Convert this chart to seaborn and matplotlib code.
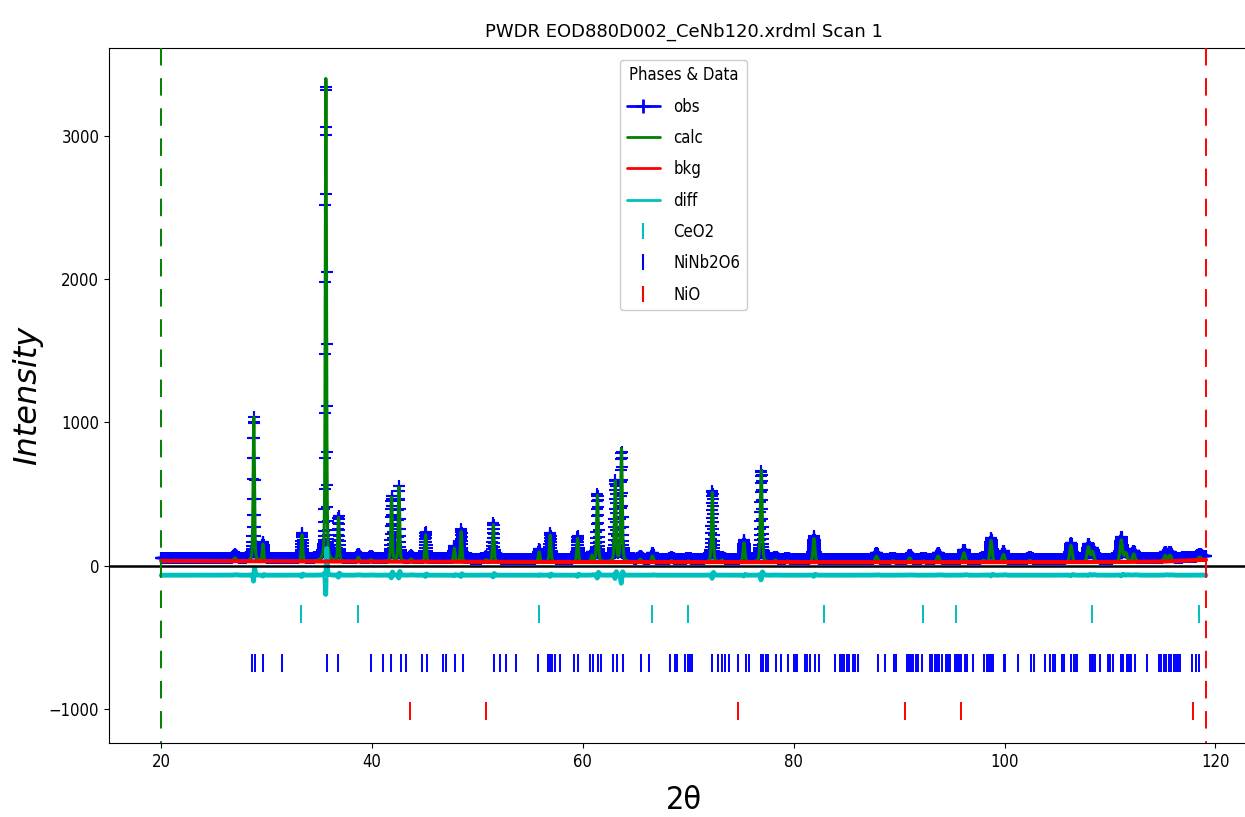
import numpy as np
import matplotlib
matplotlib.use("Agg")
import matplotlib.pyplot as plt
from matplotlib.lines import Line2D
from matplotlib.font_manager import FontProperties
import seaborn as sns

# ---- scan range -------------------------------------------------------------
tth_min = 20.0
tth_max = 119.1
tth_step = 0.0167

# refined background, read at a few angles
bkg_angle = [20.0, 30.0, 45.0, 60.0, 80.0, 100.0, 110.0, 115.0, 119.1]
bkg_level = [34, 31, 28, 26, 25, 25, 26, 29, 42]
obs_excess = 22          # diffuse intensity not covered by the background
diff_offset = -88        # vertical offset of the difference curve

# ---- reflections: position, observed / calculated net height, FWHM --------
peak_pos = [27.0, 28.78, 29.65, 33.35, 35.62, 36.82, 38.7, 39.9, 41.85, 42.55,
            43.7, 45.08, 47.8, 48.45, 50.8, 51.5, 55.85, 56.9, 59.5, 60.86,
            61.38, 63.07, 63.66, 65.45, 66.6, 68.4, 70.0, 72.28, 73.2, 75.28,
            76.92, 78.25, 79.4, 81.92, 87.85, 89.4, 91.0, 92.3, 93.7, 96.15,
            98.0, 98.72, 99.9, 102.4, 106.3, 107.95, 108.35, 111.07, 111.5,
            112.26, 115.24, 115.7, 118.5]
obs_net = [25, 985, 113, 178, 3320, 295, 30, 15, 438, 508,
           20, 182, 89, 206, 15, 252, 68, 182, 159, 45,
           450, 543, 741, 20, 43, 10, 8, 473, 12, 130,
           613, 15, 8, 159, 43, 10, 31, 8, 43, 66,
           12, 148, 55, 12, 113, 101, 70, 148, 60,
           55, 43, 43, 20]
calc_net = [22, 1010, 118, 185, 3390, 305, 28, 14, 450, 520,
            18, 188, 92, 212, 14, 260, 70, 188, 165, 44,
            465, 560, 790, 19, 42, 10, 8, 490, 12, 134,
            640, 14, 8, 165, 42, 10, 30, 8, 42, 65,
            12, 152, 54, 12, 116, 103, 70, 152, 60,
            54, 42, 42, 20]
peak_fwhm = [0.30, 0.14, 0.16, 0.16, 0.13, 0.15, 0.25, 0.25, 0.15, 0.15,
             0.25, 0.16, 0.18, 0.16, 0.25, 0.16, 0.18, 0.17, 0.17, 0.20,
             0.17, 0.17, 0.17, 0.25, 0.22, 0.30, 0.30, 0.18, 0.30, 0.20,
             0.19, 0.30, 0.30, 0.21, 0.30, 0.35, 0.30, 0.35, 0.30, 0.28,
             0.35, 0.24, 0.28, 0.35, 0.26, 0.28, 0.30, 0.27, 0.30,
             0.30, 0.30, 0.30, 0.40]

# ---- reflection markers of each phase ---------------------------------------
ceo2_ticks = [33.3, 38.7, 55.8, 66.6, 70.0, 82.9, 92.3, 95.4, 108.3, 118.4]
nio_ticks = [43.6, 50.8, 74.7, 90.6, 95.9, 117.9]
ninb2o6_ticks = [28.65, 28.9, 29.7, 31.5, 35.7, 36.8, 39.9, 41.0, 41.8, 42.7,
                 43.2, 44.7, 45.2, 46.7, 47.05, 47.9, 48.6, 51.6, 52.1, 52.7,
                 53.7, 55.7, 56.7, 56.9, 57.1, 57.4, 57.85, 59.15, 59.5, 60.65,
                 60.95, 61.4, 61.7, 62.9, 63.2, 63.8, 65.5, 66.3, 68.3, 68.7,
                 68.9, 69.7, 70.0, 70.15, 70.35, 72.26, 72.81, 73.22, 73.45,
                 73.83, 74.67, 75.44, 75.73, 76.91, 77.1, 77.33, 77.55, 78.29,
                 78.77, 79.41, 80.02, 80.18, 80.34, 81.08, 81.27, 81.56, 81.98,
                 82.43, 83.87, 84.39, 84.58, 84.8, 85.03, 85.25, 85.67, 85.86,
                 86.05, 87.98, 88.62, 89.49, 89.68, 90.74, 90.93, 91.12, 91.35,
                 91.57, 91.83, 92.15, 92.95, 93.14, 93.37, 93.59, 93.82, 94.07,
                 94.49, 94.68, 94.87, 95.26, 95.45, 95.64, 95.84, 96.25, 96.48,
                 96.96, 98.08, 98.31, 98.5, 98.72, 98.88, 99.91, 100.0, 101.32,
                 102.51, 102.8, 103.88, 104.33, 104.56, 104.82, 105.46, 105.68,
                 106.32, 106.55, 106.74, 106.9, 108.09, 108.25, 108.41, 108.57,
                 109.02, 109.82, 110.04, 110.27, 111.07, 111.23, 111.61, 111.81,
                 112.03, 112.35, 113.54, 114.63, 114.82, 115.14, 115.33, 115.56,
                 115.78, 116.04, 116.23, 116.43, 116.68, 117.74, 118.12, 118.41]
phase_offsets = {"CeO2": -335, "NiNb2O6": -677, "NiO": -1012}
phase_colors = {"CeO2": "c", "NiNb2O6": "b", "NiO": "r"}
phase_ticks = {"CeO2": ceo2_ticks, "NiNb2O6": ninb2o6_ticks, "NiO": nio_ticks}


def pseudo_voigt(x, pos, height, fwhm, eta=0.4):
    u = (x - pos) / fwhm
    gauss = np.exp(-4.0 * np.log(2.0) * u ** 2)
    lorentz = 1.0 / (1.0 + 4.0 * u ** 2)
    return height * (eta * lorentz + (1.0 - eta) * gauss)


tth = np.arange(tth_min, tth_max + 1e-9, tth_step)
bkg = np.interp(tth, bkg_angle, bkg_level)
calc = bkg.copy()
obs = bkg + obs_excess
for p, ho, hc, w in zip(peak_pos, obs_net, calc_net, peak_fwhm):
    calc += pseudo_voigt(tth, p, hc, w)
    obs += pseudo_voigt(tth, p + 0.004, ho, w * 1.05)
diff = obs - calc + diff_offset

# ---- figure -----------------------------------------------------------------
sns.set_style("ticks", {"axes.edgecolor": "black", "xtick.color": "black",
                        "ytick.color": "black", "text.color": "black",
                        "axes.labelcolor": "black"})
plt.rcParams["font.family"] = ["DejaVu Sans"]

narrow12 = FontProperties(family="DejaVu Sans", stretch="condensed", size=12)
narrow_label = FontProperties(family="DejaVu Sans", stretch="condensed", size=23)

fig = plt.figure(figsize=(12.45, 8.17), dpi=100)
ax = fig.add_axes([0.0876, 0.0906, 0.9229, 0.8507])

ax.plot(tth, obs, color="b", marker="+", ms=8, mew=1.5, lw=1.0, zorder=2)
sns.lineplot(x=tth, y=calc, color="g", lw=2.2, ax=ax, estimator=None,
             errorbar=None, legend=False, zorder=3)
sns.lineplot(x=tth, y=bkg, color="r", lw=3.0, ax=ax, estimator=None,
             errorbar=None, legend=False, zorder=4)
sns.lineplot(x=tth, y=diff, color="c", lw=3.5, ax=ax, estimator=None,
             errorbar=None, legend=False, zorder=3)
ax.axhline(0, color="k", lw=1.8, zorder=5)

for name, ticks in phase_ticks.items():
    ax.plot(ticks, [phase_offsets[name]] * len(ticks), ls="", marker="|",
            ms=13, mew=1.4, color=phase_colors[name], zorder=3)

# scan limits
xt = ax.get_xaxis_transform()
ax.plot([tth_min, tth_min], [1, 0], transform=xt, color="g", lw=1.4,
        ls=(0, (9, 6.5)), zorder=6)
ax.plot([tth_max, tth_max], [1, 0], transform=xt, color="r", lw=1.4,
        ls=(0, (9, 6.5)), zorder=6)

ax.set_xlim(15.05, 124.05)
ax.set_ylim(-1237, 3614)
ax.set_xticks([20, 40, 60, 80, 100, 120])
ax.set_yticks([-1000, 0, 1000, 2000, 3000])
for lab in ax.get_xticklabels() + ax.get_yticklabels():
    lab.set_fontproperties(narrow12)
ax.set_xlabel("2θ", fontproperties=narrow_label, labelpad=10)
ax.set_ylabel("Intensity", fontsize=23, fontstyle="italic", labelpad=4)
ax.set_title("PWDR EOD880D002_CeNb120.xrdml Scan 1", fontsize=13, pad=8)

handles = [
    Line2D([], [], color="b", marker="+", ms=10, mew=2, lw=2),
    Line2D([], [], color="g", lw=2),
    Line2D([], [], color="r", lw=2),
    Line2D([], [], color="c", lw=2),
    Line2D([], [], color="c", marker="|", ls="", ms=12, mew=1.5),
    Line2D([], [], color="b", marker="|", ls="", ms=12, mew=1.5),
    Line2D([], [], color="r", marker="|", ls="", ms=12, mew=1.5),
]
labels = ["obs", "calc", "bkg", "diff", "CeO2", "NiNb2O6", "NiO"]
leg = ax.legend(handles, labels, title="Phases & Data", loc="upper center",
                bbox_to_anchor=(0.5, 1.0), borderaxespad=0.7, prop=narrow12,
                labelspacing=0.8, numpoints=1, handlelength=2.0,
                handletextpad=0.8, framealpha=1.0, fancybox=True)
leg.get_title().set_fontproperties(narrow12)

fig.savefig("out.png", dpi=100)
